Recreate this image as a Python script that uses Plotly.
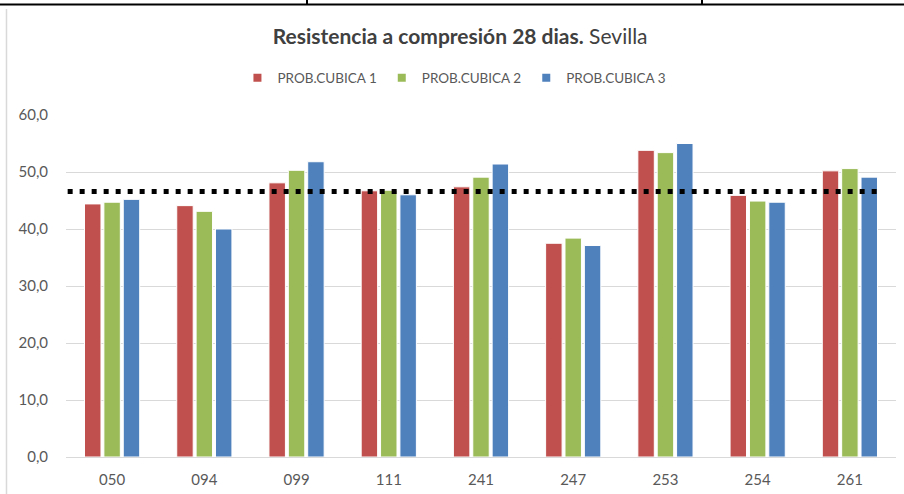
import plotly.graph_objects as go

# Resistencia a compresión a 28 días, probetas cúbicas
muestras = ["050", "094", "099", "111", "241", "247", "253", "254", "261"]
cubica_1 = [44.4, 44.1, 48.1, 46.7, 47.4, 37.5, 53.8, 45.9, 50.2]
cubica_2 = [44.7, 43.1, 50.3, 46.8, 49.1, 38.4, 53.4, 44.9, 50.6]
cubica_3 = [45.2, 40.0, 51.8, 46.0, 51.4, 37.1, 55.0, 44.7, 49.1]
media = 46.6

series = [
    ("PROB.CUBICA 1", cubica_1, "#C0504D"),
    ("PROB.CUBICA 2", cubica_2, "#9BBB59"),
    ("PROB.CUBICA 3", cubica_3, "#4F81BD"),
]

FONT = "Lato, Open Sans, sans-serif"

fig = go.Figure()
for name, vals, color in series:
    fig.add_bar(x=muestras, y=vals, name=name, legendgroup=name, showlegend=False,
                marker=dict(color=color, line=dict(color="white", width=1)))
# entradas de leyenda con cuadradito pequeño
for name, vals, color in series:
    fig.add_scatter(x=[None], y=[None], mode="markers", name=name, legendgroup=name,
                    marker=dict(symbol="square", size=8, color=color))

# linea de la media
fig.add_hline(y=media, x0=0.002, x1=0.982,
              line=dict(color="black", width=5, dash="5px,7px"))

# bordes de la celda / marco
fig.add_shape(type="line", xref="paper", yref="paper",
              x0=-0.08, x1=1.02, y0=1.3231, y1=1.3231,
              line=dict(color="black", width=2))
for px in [307, 702]:
    xp = (px - 66) / 830
    fig.add_shape(type="line", xref="paper", yref="paper",
                  x0=xp, x1=xp, y0=1.3231, y1=1.34,
                  line=dict(color="black", width=2))
fig.add_shape(type="line", xref="paper", yref="paper",
              x0=-0.0717, x1=-0.0717, y0=-0.12, y1=1.31,
              line=dict(color="#D9D9D9", width=1.5))

fig.update_layout(
    width=904, height=494,
    margin=dict(l=66, r=8, t=115, b=37),
    paper_bgcolor="white", plot_bgcolor="white",
    separators=",.",
    font=dict(family=FONT, size=13, color="#595959"),
    title=dict(
        text="<b>Resistencia a compresión 28 dias.</b> Sevilla",
        x=0.509, xref="container", xanchor="center",
        y=1 - 37 / 494, yref="container", yanchor="middle",
        font=dict(family=FONT, size=21, color="#404040"),
    ),
    legend=dict(orientation="h", x=0.468, xanchor="center",
                y=1.108, yanchor="middle",
                font=dict(family=FONT, size=13.5, color="#595959"),
                itemwidth=30, traceorder="normal"),
    barmode="group", bargap=0.37, bargroupgap=0.15,
    showlegend=True,
)
fig.update_xaxes(showgrid=False, showline=False, ticks="", automargin=False,
                 tickfont=dict(size=15), ticklabelstandoff=12)
fig.update_yaxes(range=[0, 60], dtick=10, tickformat=".1f", automargin=False,
                 showgrid=True, gridcolor="#D9D9D9", gridwidth=1,
                 zeroline=True, zerolinecolor="#D9D9D9", zerolinewidth=1,
                 showline=False, ticks="", tickfont=dict(size=15),
                 ticklabelstandoff=17)

fig.write_html("out.html", config={"displayModeBar": False},
               post_script="document.body.style.margin='0px';"
                           "document.body.style.overflow='hidden';")
